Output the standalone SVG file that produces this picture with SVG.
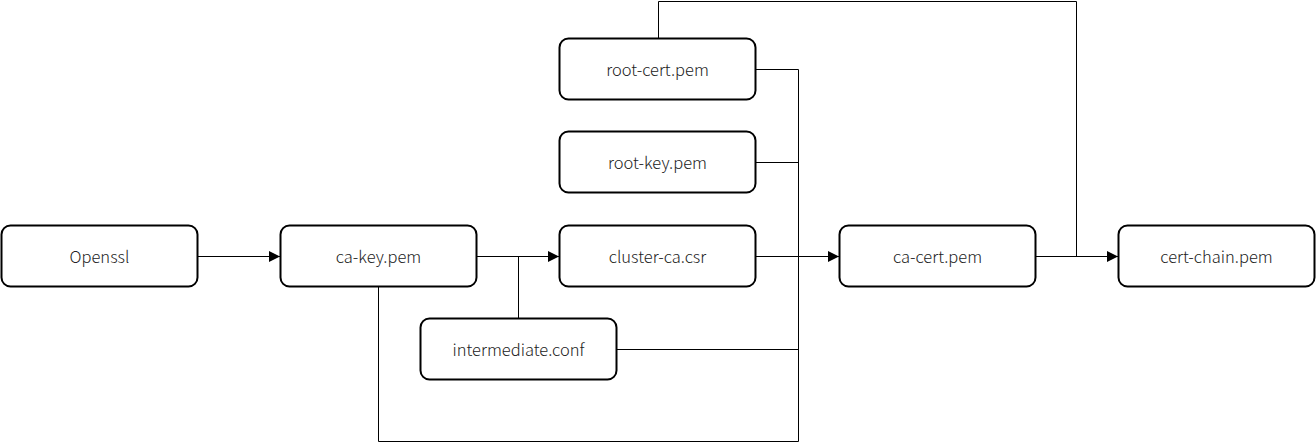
<svg xmlns="http://www.w3.org/2000/svg" width="1316" height="443" viewBox="0 0 1316 443">
<style>
.n rect{fill:#fff;stroke:#000;stroke-width:2}
.n text{font-family:"Noto Sans CJK SC","Noto Sans",sans-serif;font-size:16.5px;font-weight:300;fill:#222;text-anchor:middle;dominant-baseline:central}
.c path{fill:none;stroke:#000;stroke-width:1}
</style>
<defs>
<marker id="a" markerWidth="12" markerHeight="13" refX="11" refY="6.5" orient="auto" markerUnits="userSpaceOnUse">
<path d="M0,1 L11,6.5 L0,12 Z" fill="#000"/>
</marker>
</defs>
<rect width="1316" height="443" fill="#fff"/>
<g class="c" id="connectors">
<path d="M198,256.5 H280" marker-end="url(#a)"/>
<path d="M477,256.5 H559" marker-end="url(#a)"/>
<path d="M518.5,318 V256.5"/>
<path d="M756,69.5 H798.5 V256.5 H839" marker-end="url(#a)"/>
<path d="M756,162.5 H798.5"/>
<path d="M756,256.5 H798.5"/>
<path d="M617,349.5 H798.5 V256.5"/>
<path d="M378.5,287 V441.5 H798.5 V256.5"/>
<path d="M1036,256.5 H1118" marker-end="url(#a)"/>
<path d="M658.5,38 V1.5 H1076.5 V256.5"/>
</g>
<g class="n" id="openssl"><rect x="1.5" y="225.5" width="196" height="61" rx="9"/><text x="99.5" y="256">Openssl</text></g>
<g class="n" id="ca-key"><rect x="280.5" y="225.5" width="196" height="61" rx="9"/><text x="378.5" y="256">ca-key.pem</text></g>
<g class="n" id="cluster-ca"><rect x="559.5" y="225.5" width="196" height="61" rx="9"/><text x="657.5" y="256">cluster-ca.csr</text></g>
<g class="n" id="intermediate"><rect x="420.5" y="318.5" width="196" height="61" rx="9"/><text x="518.5" y="349">intermediate.conf</text></g>
<g class="n" id="root-cert"><rect x="559.5" y="38.5" width="196" height="61" rx="9"/><text x="657.5" y="69">root-cert.pem</text></g>
<g class="n" id="root-key"><rect x="559.5" y="131.5" width="196" height="61" rx="9"/><text x="657.5" y="162">root-key.pem</text></g>
<g class="n" id="ca-cert"><rect x="839.5" y="225.5" width="196" height="61" rx="9"/><text x="937.5" y="256">ca-cert.pem</text></g>
<g class="n" id="cert-chain"><rect x="1118.5" y="225.5" width="196" height="61" rx="9"/><text x="1216.5" y="256">cert-chain.pem</text></g>
</svg>
